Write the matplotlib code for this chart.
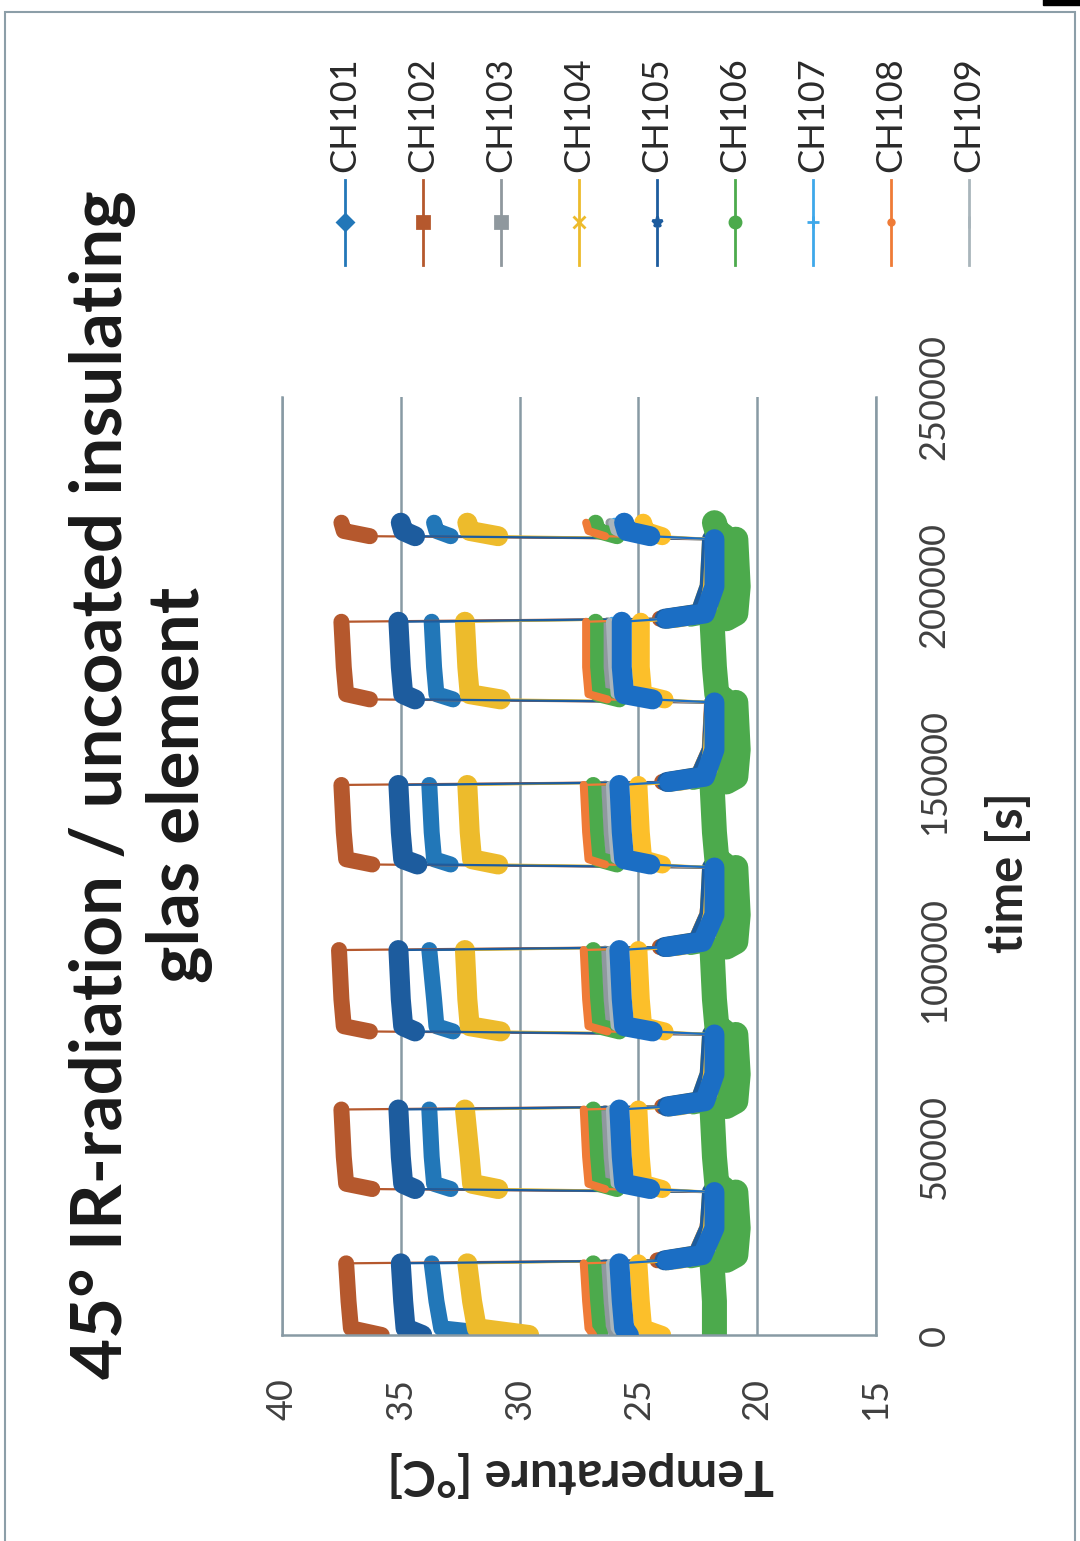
import matplotlib.pyplot as plt
from matplotlib.lines import Line2D
from matplotlib.patches import Rectangle

plt.rcParams['font.family'] = ['Lato', 'DejaVu Sans']

# sample times [s], 8 samples per heating/cooling cycle, last cycle cut off
time_s = [0, 1800, 9000, 19100, 19900, 21300, 28500, 38100,
          38900, 40300, 47500, 60100, 60900, 62300, 69500, 80100,
          80900, 82300, 89500, 102600, 103400, 104800, 112000, 124600,
          125400, 126800, 134000, 146600, 147400, 148800, 156000, 168600,
          169400, 170800, 178000, 190100, 190900, 192300, 199500, 212100,
          212900, 214300, 216500]

ch101 = [30.7, 33.3, 33.5, 33.7, 23.6, 22.4, 22.0, 21.9,
         32.9, 33.6, 33.7, 33.8, 23.4, 22.3, 21.9, 21.8,
         32.8, 33.5, 33.6, 33.8, 23.5, 22.4, 22.0, 21.9,
         32.9, 33.6, 33.7, 33.8, 23.4, 22.3, 21.9, 21.8,
         32.8, 33.5, 33.6, 33.7, 23.5, 22.3, 21.9, 21.8,
         32.9, 33.5, 33.6]
ch102 = [35.8, 37.1, 37.2, 37.3, 24.2, 22.6, 22.1, 21.9,
         36.2, 37.3, 37.4, 37.5, 24.0, 22.5, 22.0, 21.9,
         36.3, 37.4, 37.5, 37.6, 24.1, 22.6, 22.1, 21.9,
         36.2, 37.3, 37.4, 37.5, 24.0, 22.5, 22.0, 21.9,
         36.3, 37.3, 37.4, 37.5, 24.1, 22.5, 22.0, 21.9,
         36.3, 37.4, 37.5]
ch103 = [26.0, 26.2, 26.3, 26.4, 23.0, 22.2, 21.9, 21.8,
         25.5, 26.2, 26.3, 26.4, 22.9, 22.1, 21.8, 21.8,
         25.4, 26.2, 26.3, 26.4, 23.0, 22.2, 21.9, 21.8,
         25.5, 26.2, 26.3, 26.4, 22.9, 22.1, 21.8, 21.8,
         25.4, 26.2, 26.3, 26.3, 23.0, 22.1, 21.8, 21.8,
         25.5, 26.1, 26.2]
ch104 = [29.6, 31.8, 32.0, 32.2, 23.8, 22.5, 22.0, 21.9,
         30.9, 32.0, 32.1, 32.3, 23.7, 22.4, 22.0, 21.9,
         30.8, 32.1, 32.2, 32.3, 23.8, 22.5, 22.0, 21.9,
         30.9, 32.0, 32.1, 32.2, 23.7, 22.4, 21.9, 21.8,
         30.8, 32.1, 32.2, 32.3, 23.8, 22.4, 22.0, 21.9,
         30.9, 32.1, 32.2]
ch105 = [34.1, 34.8, 34.9, 35.0, 23.9, 22.5, 22.0, 21.9,
         34.4, 34.9, 35.0, 35.1, 23.8, 22.4, 22.0, 21.9,
         34.4, 34.9, 35.0, 35.1, 23.9, 22.5, 22.0, 21.9,
         34.3, 34.9, 35.0, 35.1, 23.8, 22.4, 21.9, 21.8,
         34.4, 34.9, 35.0, 35.1, 23.9, 22.4, 22.0, 21.9,
         34.4, 34.9, 35.0]
ch106 = [26.6, 26.7, 26.8, 26.9, 22.8, 21.6, 21.3, 21.2,
         25.9, 26.7, 26.8, 26.9, 22.7, 21.6, 21.3, 21.2,
         25.8, 26.7, 26.8, 26.9, 22.8, 21.6, 21.3, 21.2,
         25.9, 26.7, 26.8, 26.9, 22.7, 21.6, 21.3, 21.2,
         25.8, 26.7, 26.8, 26.8, 22.8, 21.6, 21.3, 21.2,
         25.9, 26.7, 26.8]
ch107 = [25.6, 25.9, 26.0, 26.1, 23.0, 22.0, 21.8, 21.7,
         25.2, 25.9, 26.0, 26.1, 22.9, 22.0, 21.8, 21.7,
         25.2, 25.9, 26.0, 26.1, 23.0, 22.0, 21.8, 21.7,
         25.2, 25.9, 26.0, 26.1, 22.9, 22.0, 21.8, 21.7,
         25.2, 25.9, 26.0, 26.1, 23.0, 22.0, 21.8, 21.7,
         25.2, 25.9, 26.0]
ch108 = [26.9, 27.1, 27.2, 27.3, 23.2, 22.2, 21.9, 21.8,
         26.4, 27.1, 27.2, 27.3, 23.1, 22.1, 21.9, 21.8,
         26.3, 27.1, 27.2, 27.3, 23.2, 22.2, 21.9, 21.8,
         26.4, 27.1, 27.2, 27.3, 23.1, 22.1, 21.9, 21.8,
         26.3, 27.1, 27.2, 27.2, 23.2, 22.1, 21.9, 21.8,
         26.4, 27.1, 27.2]
ch109 = [25.8, 26.0, 26.1, 26.2, 23.1, 22.1, 21.8, 21.7,
         25.5, 26.0, 26.1, 26.2, 23.0, 22.1, 21.8, 21.7,
         25.5, 26.0, 26.1, 26.2, 23.1, 22.1, 21.8, 21.7,
         25.5, 26.0, 26.1, 26.2, 23.0, 22.1, 21.8, 21.7,
         25.5, 26.0, 26.1, 26.2, 23.1, 22.1, 21.8, 21.7,
         25.5, 26.0, 26.1]
# further channels plotted but not listed in the legend
ch110 = [24.0, 24.8, 24.9, 25.0, 23.4, 22.2, 21.9, 21.8,
         24.0, 24.8, 24.9, 25.0, 23.3, 22.1, 21.9, 21.8,
         23.9, 24.8, 24.9, 25.0, 23.4, 22.2, 21.9, 21.8,
         24.0, 24.8, 24.9, 25.0, 23.3, 22.1, 21.9, 21.8,
         23.9, 24.8, 24.9, 24.9, 23.4, 22.1, 21.9, 21.8,
         24.0, 24.7, 24.8]
ch111 = [21.8, 21.8, 21.8, 21.9, 21.3, 20.9, 20.8, 20.9,
         21.4, 21.7, 21.8, 21.9, 21.3, 20.9, 20.8, 20.9,
         21.4, 21.7, 21.8, 21.9, 21.3, 20.9, 20.8, 20.9,
         21.4, 21.7, 21.8, 21.9, 21.3, 20.9, 20.8, 20.9,
         21.4, 21.7, 21.8, 21.9, 21.3, 20.9, 20.8, 20.9,
         21.4, 21.7, 21.8]
ch112 = [25.4, 25.6, 25.7, 25.8, 23.8, 22.3, 21.8, 21.8,
         24.5, 25.6, 25.7, 25.8, 23.7, 22.2, 21.8, 21.8,
         24.4, 25.6, 25.7, 25.8, 23.8, 22.3, 21.8, 21.8,
         24.5, 25.6, 25.7, 25.8, 23.7, 22.2, 21.8, 21.8,
         24.4, 25.6, 25.7, 25.7, 23.8, 22.2, 21.8, 21.8,
         24.5, 25.5, 25.6]

channels = ["CH101", "CH102", "CH103", "CH104", "CH105", "CH106",
            "CH107", "CH108", "CH109", "CH110", "CH111", "CH112"]
values = [ch101, ch102, ch103, ch104, ch105, ch106,
          ch107, ch108, ch109, ch110, ch111, ch112]
legend_channels = channels[:9]

temp_ticks = [40, 35, 30, 25, 20, 15]
time_ticks = [0, 50000, 100000, 150000, 200000, 250000]

# colour, marker, band width (px) of the dense marker clouds
styles = {
    "CH101": ("#2277b8", "D", 16),
    "CH102": ("#b5582d", "s", 16),
    "CH103": ("#8f989e", "s", 9),
    "CH104": ("#edbb2c", "x", 20),
    "CH105": ("#1d5c9e", "*", 20),
    "CH106": ("#4caa4c", "o", 16),
    "CH107": ("#3ea8ea", "+", 10),
    "CH108": ("#ef7b37", ".", 8),
    "CH109": ("#a9b5bb", "|", 8),
    "CH110": ("#fcbf2a", "o", 18),
    "CH111": ("#4caa4c", "o", 25),
    "CH112": ("#1b6ec4", "s", 20),
}
px = 72 / 100

fig = plt.figure(figsize=(10.8, 15.41), dpi=100)
ax = fig.add_axes([282 / 1080, 206 / 1541, 594 / 1080, 938 / 1541])

for k, (name, temps) in enumerate(zip(channels, values)):
    color, marker, band = styles[name]
    z = 2 + k * 0.05
    ax.plot(temps, time_s, color=color, lw=1.6, zorder=z)
    for i in range(0, len(time_s), 4):
        ax.plot(temps[i:i + 4], time_s[i:i + 4], color=color, lw=band * px,
                solid_capstyle='round', solid_joinstyle='round', zorder=z)

ax.set_xlim(40, 15)
ax.set_ylim(0, 250000)
ax.set_xticks(temp_ticks)
ax.set_xticklabels([str(t) for t in temp_ticks])
ax.yaxis.tick_right()
ax.set_yticks(time_ticks)
ax.set_yticklabels([str(t) for t in time_ticks])
ax.grid(axis='x', color='#889aa4', lw=1.8)
ax.set_axisbelow(True)
ax.spines['top'].set_visible(False)
for side in ['left', 'right', 'bottom']:
    ax.spines[side].set_color('#889aa4')
    ax.spines[side].set_linewidth(1.8)
ax.tick_params(axis='x', length=0, labelrotation=90, pad=31, labelsize=26, labelcolor='#404040')
ax.tick_params(axis='y', length=0, labelrotation=90, pad=30, labelsize=26, labelcolor='#404040')
for lab in ax.get_yticklabels():
    lab.set_va('center')

# titles and axis names (chart is shown turned by 90 degrees)
fig.text(141 / 1080, 1 - 785 / 1541, "45° IR-radiation / uncoated insulating\nglas element",
         rotation=90, ha='center', va='center', multialignment='center',
         fontsize=51, fontweight='bold', color='#1a1a1a', linespacing=1.2)
fig.text(581 / 1080, 1 - 1474 / 1541, "Temperature [°C]", rotation=180,
         ha='center', va='center', fontsize=36, fontweight='bold', color='#262626')
fig.text(1008 / 1080, 1 - 873 / 1541, "time [s]", rotation=90,
         ha='center', va='center', fontsize=35, fontweight='bold', color='#262626')

# legend, entries side by side with upright lines
for i, name in enumerate(legend_channels):
    color, marker, band = styles[name]
    x = (345 + 78 * i) / 1080
    fig.add_artist(Line2D([x, x], [1 - 180 / 1541, 1 - 265 / 1541], color=color, lw=2))
    fig.add_artist(Line2D([x], [1 - 222 / 1541], color=color, marker=marker, ms=8,
                          markeredgewidth=2))
    fig.text(x, 1 - 172 / 1541, name, rotation=90, ha='center', va='bottom',
             fontsize=26, color='#2a2a2a')

# scan frame
fig.add_artist(Rectangle((5 / 1080, -0.01), 1070 / 1080, 1.0022, fill=False,
                         edgecolor='#8c9ea8', lw=1.5, transform=fig.transFigure))
fig.add_artist(Rectangle((1043 / 1080, 1 - 5 / 1541), 40 / 1080, 0.01,
                         color='black', transform=fig.transFigure))

fig.savefig("out.png", dpi=100)
